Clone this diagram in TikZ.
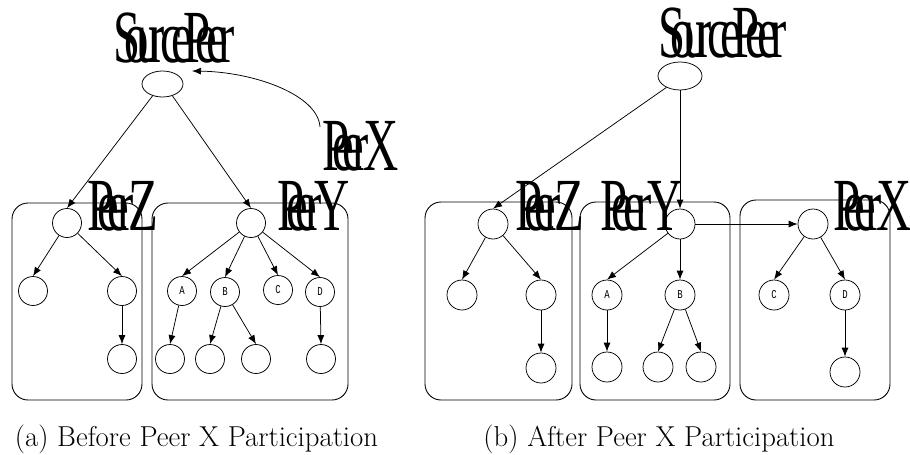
\documentclass[tikz,border=0pt]{standalone}
\usepackage{fontspec}
\usetikzlibrary{shapes.geometric,arrows.meta}
\newfontfamily\lbf{Liberation Serif}
\newfontfamily\monof{Liberation Mono}
\newlength\ladv
\newcommand\olt[1]{\makebox[\ladv][l]{#1}}
\newcommand\peerlbl[2]{\scalebox{0.65}[1]{\setlength\ladv{#1em}#2}}
\newcommand\cl[1]{\scalebox{0.75}[1]{#1}}
\begin{document}
\begin{tikzpicture}[x=1pt,y=-1pt,
  every node/.style={inner sep=0pt},
  pc/.style={circle,draw,minimum size=29pt,line width=0.75pt,font=\monof\fontsize{12}{12}\selectfont},
  srcel/.style={ellipse,draw,line width=0.75pt},
  grp/.style={draw,rounded corners=16pt,line width=0.9pt},
  arr/.style={-{Latex[length=9pt,width=7pt]},line width=0.75pt},
  lbl/.style={anchor=base west,font=\lbf\fontsize{75}{75}\selectfont},
  capt/.style={font=\fontsize{28.8}{32}\selectfont,anchor=base}]
\useasboundingbox (0,0) rectangle (910,455);
% group boxes
\node[grp,minimum width=130pt,minimum height=197pt] (ga1) at (77,301.5) {};
\node[grp,minimum width=196pt,minimum height=197pt] (ga2) at (250,301.5) {};
\node[grp,minimum width=147pt,minimum height=198pt] (gb1) at (498.5,301) {};
\node[grp,minimum width=150pt,minimum height=198pt] (gb2) at (655,301) {};
\node[grp,minimum width=150pt,minimum height=200pt] (gb3) at (815,300) {};
% (a) nodes
\node[srcel,minimum width=41pt,minimum height=26pt] (srcA) at (162.5,84) {};
\node[pc] (za) at (67,223) {};
\node[pc] (za1) at (33,291) {};
\node[pc] (za2) at (122,291) {};
\node[pc] (za3) at (122,359) {};
\node[pc] (ya) at (251,223) {};
\node[pc] (yA) at (182,291) {\cl{A}};
\node[pc] (yB) at (225,292) {\cl{B}};
\node[pc] (yC) at (278,290) {\cl{C}};
\node[pc] (yD) at (320,292) {\cl{D}};
\node[pc] (yA1) at (170,359) {};
\node[pc] (yB1) at (210,359) {};
\node[pc] (yB2) at (256,359) {};
\node[pc] (yD1) at (321,359) {};
% (b) nodes
\node[srcel,minimum width=44pt,minimum height=28pt] (srcB) at (680,76) {};
\node[pc,minimum size=30pt] (zb) at (493,224) {};
\node[pc,minimum size=30pt] (zb1) at (462,295) {};
\node[pc,minimum size=30pt] (zb2) at (541,295) {};
\node[pc,minimum size=30pt] (zb3) at (541,368) {};
\node[pc,minimum size=30pt] (yb) at (680,224) {};
\node[pc,minimum size=30pt] (ybA) at (607,295) {\cl{A}};
\node[pc,minimum size=30pt] (ybB) at (680,295) {\cl{B}};
\node[pc,minimum size=30pt] (ybA1) at (607,367) {};
\node[pc,minimum size=30pt] (ybB1) at (658,367) {};
\node[pc,minimum size=30pt] (ybB2) at (701,367) {};
\node[pc,minimum size=30pt] (xb) at (813,224) {};
\node[pc,minimum size=30pt] (xbC) at (774,295) {\cl{C}};
\node[pc,minimum size=30pt] (xbD) at (845,295) {\cl{D}};
\node[pc,minimum size=30pt] (xbD1) at (845,372) {};
% labels
\node[lbl] (lsa) at (113,62) {\peerlbl{0.24}{\olt{S}\olt{o}\olt{u}\olt{r}\olt{c}\olt{e}\olt{P}\olt{e}\olt{e}r}};
\node[lbl] (lxa) at (322,170) {\peerlbl{0.21}{\olt{P}\olt{e}\olt{e}\olt{r}X}};
\node[lbl] (lza) at (87,230) {\peerlbl{0.21}{\olt{P}\olt{e}\olt{e}\olt{r}Z}};
\node[lbl] (lya) at (277,230) {\peerlbl{0.19}{\olt{P}\olt{e}\olt{e}\olt{r}Y}};
\node[lbl] (lsb) at (658,57) {\peerlbl{0.255}{\olt{S}\olt{o}\olt{u}\olt{r}\olt{c}\olt{e}\olt{P}\olt{e}\olt{e}r}};
\node[lbl] (lzb) at (515,230) {\peerlbl{0.2}{\olt{P}\olt{e}\olt{e}\olt{r}Z}};
\node[lbl] (lyb) at (600,230) {\peerlbl{0.24}{\olt{P}\olt{e}\olt{e}\olt{r}Y}};
\node[lbl] (lxb) at (833,230) {\peerlbl{0.22}{\olt{P}\olt{e}\olt{e}\olt{r}X}};
% captions
\node[capt] (capa) at (196.5,446) {(a) Before Peer X Participation};
\node[capt] (capb) at (659,446) {(b) After Peer X Participation};
% (a) edges
\draw[arr] (srcA.-130) -- (za.north);
\draw[arr] (srcA.-50) -- (ya.north);
\coordinate (xs) at (320,127);
\coordinate (xe) at (192,71);
\draw[arr] (xs) .. controls (318,95) and (255,72) .. (xe);
\draw[arr] (za) -- (za1.north);
\draw[arr] (za) -- (za2.north);
\draw[arr] (za2) -- (za3.north);
\draw[arr] (ya) -- (yA.north);
\draw[arr] (ya) -- (yB.north);
\draw[arr] (ya) -- (yC.north);
\draw[arr] (ya) -- (yD.north);
\draw[arr] (yA) -- (yA1.north);
\draw[arr] (yB) -- (yB1.north);
\draw[arr] (yB) -- (yB2.north);
\draw[arr] (yD) -- (yD1.north);
% (b) edges
\draw[arr] (srcB.-140) -- (zb.north);
\draw[arr] (srcB.south) -- (yb.north);
\draw[arr] (yb) -- (xb);
\draw[arr] (zb) -- (zb1.north);
\draw[arr] (zb) -- (zb2.north);
\draw[arr] (zb2) -- (zb3.north);
\draw[arr] (yb) -- (ybA.north);
\draw[arr] (yb) -- (ybB.north);
\draw[arr] (ybA) -- (ybA1.north);
\draw[arr] (ybB) -- (ybB1.north);
\draw[arr] (ybB) -- (ybB2.north);
\draw[arr] (xb) -- (xbC.north);
\draw[arr] (xb) -- (xbD.north);
\draw[arr] (xbD) -- (xbD1.north);
\end{tikzpicture}
\end{document}
